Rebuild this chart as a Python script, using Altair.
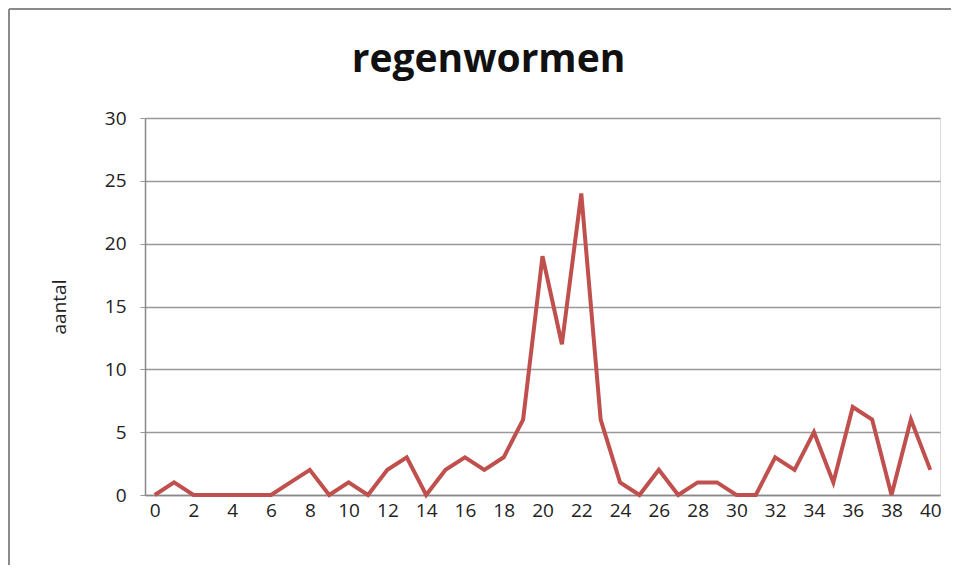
import altair as alt
import pandas as pd

dagen = list(range(0, 41))
aantal = [0, 1, 0, 0, 0, 0, 0, 1, 2, 0,
          1, 0, 2, 3, 0, 2, 3, 2, 3, 6,
          19, 12, 24, 6, 1, 0, 2, 0, 1, 1,
          0, 0, 3, 2, 5, 1, 7, 6, 0, 6, 2]
x_ticks = list(range(0, 41, 2))
y_ticks = [0, 5, 10, 15, 20, 25, 30]

df = pd.DataFrame({"dag": dagen, "aantal": aantal})

FONT = "Open Sans"
W, H = 795, 377

line = alt.Chart(df).mark_line(color="#C0504D", strokeWidth=4, strokeJoin="miter").encode(
    x=alt.X("dag:Q", scale=alt.Scale(domain=[-0.5, 40.5], nice=False, zero=False),
            axis=alt.Axis(values=x_ticks, grid=False, ticks=False, title=None,
                          labelFontSize=19, labelColor="#222", labelPadding=6,
                          domainColor="#888", domainWidth=1.5, labelFont=FONT)),
    y=alt.Y("aantal:Q", scale=alt.Scale(domain=[0, 30], nice=False),
            axis=alt.Axis(values=y_ticks, grid=True, gridColor="#999", gridWidth=1.5,
                          tickColor="#999", tickSize=5, labelFontSize=19, labelColor="#222",
                          labelPadding=14, domainColor="#888", domainWidth=1.5,
                          title="aantal", titleFontSize=19, titleFontWeight="normal",
                          titleColor="#222", titlePadding=35, labelFont=FONT, titleFont=FONT)),
)

border_top = alt.Chart().mark_rule(stroke="#8a8a8a", strokeWidth=2).encode(
    x=alt.value(-136), x2=alt.value(W + 11), y=alt.value(-109)
)
border_left = alt.Chart().mark_rule(stroke="#8a8a8a", strokeWidth=2).encode(
    x=alt.value(-136), y=alt.value(-109), y2=alt.value(H + 70)
)

chart = alt.layer(border_top, border_left, line).properties(
    width=W, height=H,
    title=alt.TitleParams("regenwormen", fontSize=39, font=FONT, fontWeight="bold",
                          color="#111", dx=-54, offset=-72, frame="group"),
    autosize=alt.AutoSizeParams(type="none"),
    padding={"left": 137, "top": 110, "right": 11, "bottom": 70},
).configure_view(stroke=None).configure(background="white")

chart.save("out.html", embed_options={"renderer": "svg", "actions": False})
